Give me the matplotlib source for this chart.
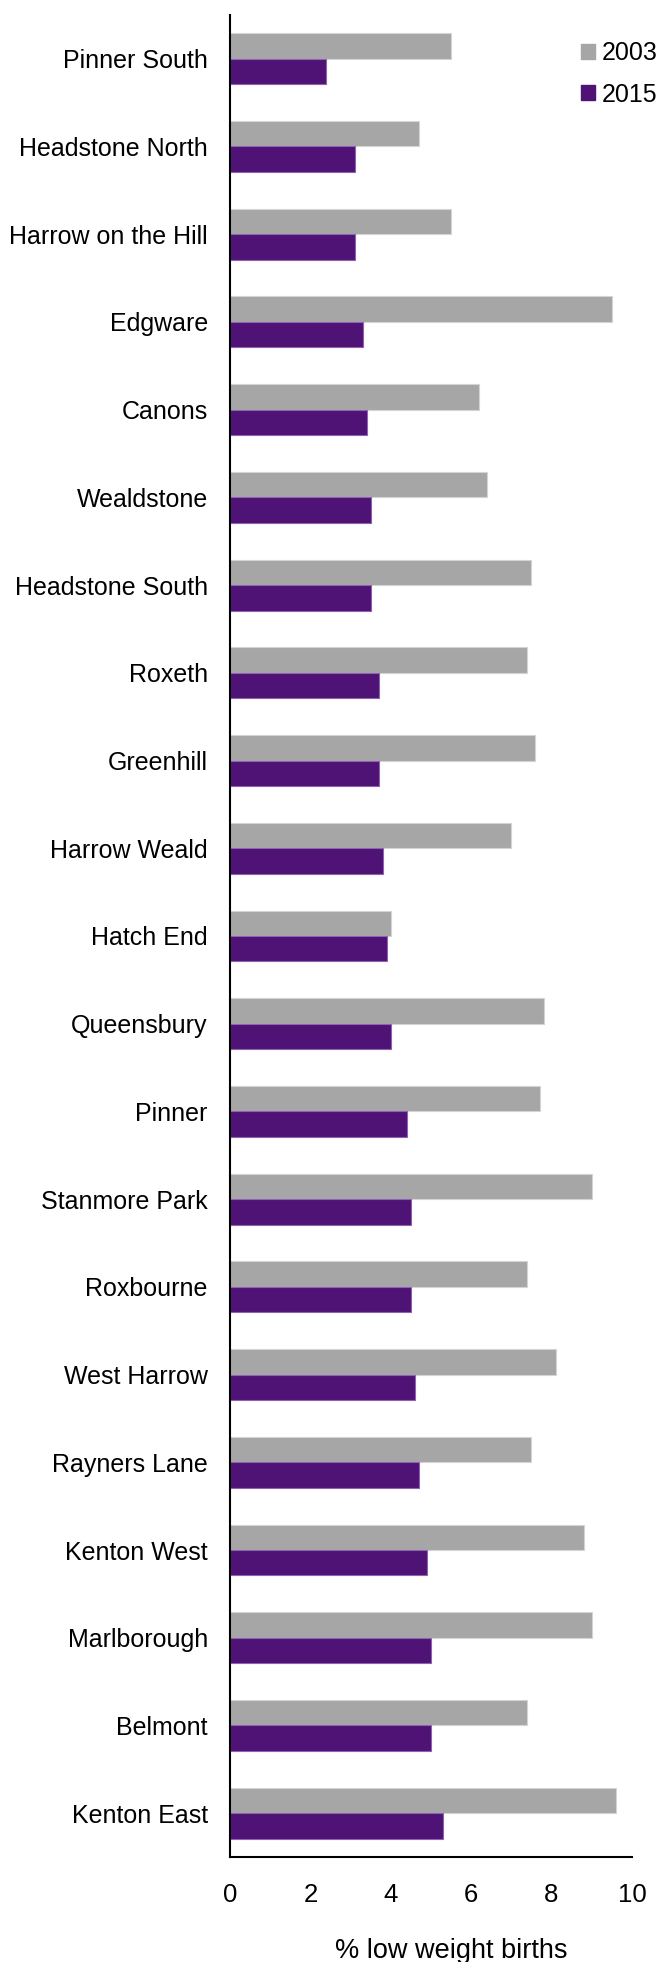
import matplotlib
matplotlib.use("Agg")
import matplotlib.pyplot as plt
import numpy as np
from matplotlib.patches import Patch

plt.rcParams['font.family'] = ['Liberation Sans', 'DejaVu Sans']

wards = ["Pinner South", "Headstone North", "Harrow on the Hill", "Edgware", "Canons",
         "Wealdstone", "Headstone South", "Roxeth", "Greenhill", "Harrow Weald",
         "Hatch End", "Queensbury", "Pinner", "Stanmore Park", "Roxbourne",
         "West Harrow", "Rayners Lane", "Kenton West", "Marlborough", "Belmont",
         "Kenton East"]
v2003 = [5.5, 4.7, 5.5, 9.5, 6.2, 6.4, 7.5, 7.4, 7.6, 7.0, 4.0, 7.8, 7.7, 9.0,
         7.4, 8.1, 7.5, 8.8, 9.0, 7.4, 9.6]
v2015 = [2.4, 3.1, 3.1, 3.3, 3.4, 3.5, 3.5, 3.7, 3.7, 3.8, 3.9, 4.0, 4.4, 4.5,
         4.5, 4.6, 4.7, 4.9, 5.0, 5.0, 5.3]
xticks = [0, 2, 4, 6, 8, 10]

gray = "#a6a6a6"
purple = "#4f1275"

fig = plt.figure(figsize=(6.6, 19.62), dpi=100)
ax = fig.add_axes([0.3485, 0.0535, 0.609, 0.9389])

y = np.arange(len(wards))
h = 0.29
ax.barh(y - h / 2, v2003, height=h, color=gray, edgecolor="#d4d4d4", linewidth=0.8, label="2003")
ax.barh(y + h / 2, v2015, height=h, color=purple, edgecolor="#8e62b3", linewidth=0.8, label="2015")

ax.set_ylim(len(wards) - 0.5, -0.5)
ax.set_xlim(0, 10)
ax.set_yticks(y)
ax.set_yticklabels(wards, fontsize=18)
ax.set_xticks(xticks)
ax.set_xticklabels([str(t) for t in xticks], fontsize=18.5)
ax.tick_params(axis='y', length=0, pad=16)
ax.tick_params(axis='x', length=0, pad=19)
for s in ["top", "right"]:
    ax.spines[s].set_visible(False)
for s in ["left", "bottom"]:
    ax.spines[s].set_linewidth(1.5)
    ax.spines[s].set_color("black")
ax.set_xlabel("% low weight births", fontsize=19.5)
ax.xaxis.set_label_coords(0.55, -0.0442)

handles = [Patch(facecolor=gray, edgecolor=gray), Patch(facecolor=purple, edgecolor=purple)]
fig.legend(handles, ["2003", "2015"], loc="upper right", bbox_to_anchor=(0.997, 0.979),
           frameon=False, fontsize=18, handlelength=0.55, handleheight=0.55,
           handletextpad=0.3, labelspacing=0.7, borderpad=0, borderaxespad=0)

fig.savefig("out.png", dpi=100)
